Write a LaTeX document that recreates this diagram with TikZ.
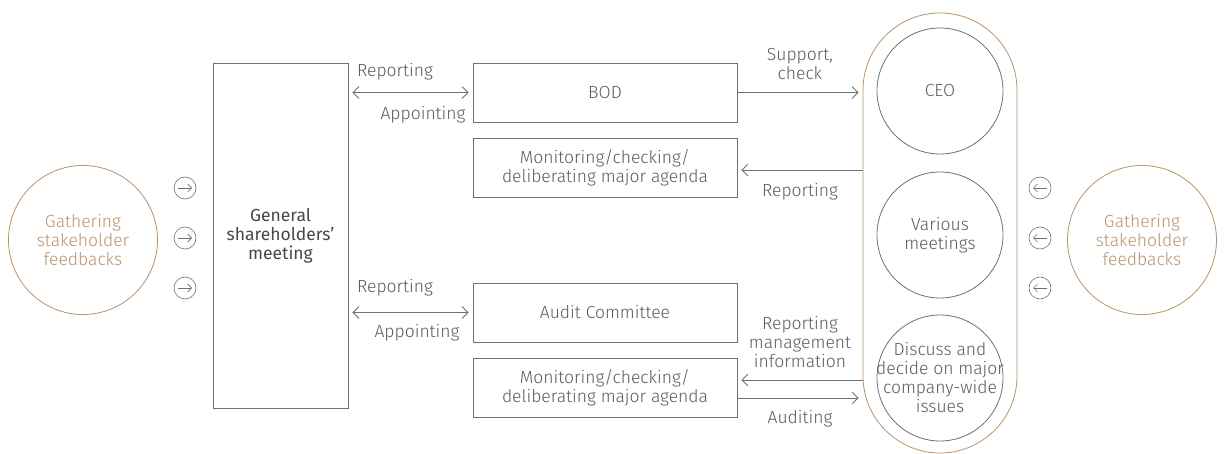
\documentclass[tikz,border=0pt]{standalone}
\usepackage{fontspec}
\setmainfont{Fira Sans}[UprightFont={* Light}]
\newfontfamily\gsmfont{Fira Sans}
\usetikzlibrary{arrows.meta}
\definecolor{ln}{HTML}{707070}
\definecolor{txt}{HTML}{5A5A5A}
\definecolor{brn}{HTML}{B8926A}
\begin{document}
\begin{tikzpicture}[x=1pt,y=-1pt,
  every node/.style={font=\fontsize{17.5}{19}\selectfont, text=txt},
  box/.style={draw=ln, line width=0.8pt, minimum width=264pt, minimum height=59pt, align=center, inner sep=0pt},
  bigc/.style={draw=ln, line width=0.8pt, circle, minimum size=126pt, align=center, inner sep=0pt},
  fbc/.style={draw=brn, line width=0.8pt, circle, minimum size=149pt, align=center, inner sep=0pt, text=brn},
  smallc/.style={draw=ln, line width=0.6pt, circle, minimum size=22pt, inner sep=0pt},
  lbl/.style={align=center, inner sep=0pt},
  arr/.style={draw=ln, line width=0.8pt, -{Straight Barb[length=6pt,width=12pt]}},
  darr/.style={draw=ln, line width=0.8pt, {Straight Barb[length=6pt,width=12pt]}-{Straight Barb[length=6pt,width=12pt]}},
  iarr/.style={draw=ln, line width=0.6pt, -{Straight Barb[length=4pt,width=8pt]}}
]
\useasboundingbox (0,0) rectangle (1224,454);

% left feedback
\node[fbc] (lfb) at (83,240) {Gathering\\stakeholder\\feedbacks};
\node[smallc] (ls1) at (185,188) {};
\node[smallc] (ls2) at (185,238) {};
\node[smallc] (ls3) at (185,288) {};
\foreach \n in {ls1,ls2,ls3} \draw[iarr] ([xshift=-7pt]\n.center) -- ([xshift=7pt]\n.center);

% general meeting
\node[box, minimum width=135pt, minimum height=345pt, text=black!72, font=\gsmfont\fontsize{17.5}{19}\selectfont] (gsm) at (280.5,235.5) {General\\shareholders’\\meeting};

% boxes
\node[box] (bod) at (605,92.5) {BOD};
\node[box] (mon1) at (605,168) {Monitoring/checking/\\deliberating major agenda};
\node[box] (aud) at (605,312.5) {Audit Committee};
\node[box] (mon2) at (605,388) {Monitoring/checking/\\deliberating major agenda};

% capsule
\node[draw=brn, line width=0.8pt, minimum width=154pt, minimum height=440pt, rounded corners=77pt, inner sep=0pt] (cap) at (940,233) {};
\node[bigc] (ceo) at (940,91) {CEO};
\node[bigc] (meet) at (940,235) {Various\\meetings};
\node[bigc, label={[lbl]center:{Discuss and\\decide on major\\company-wide\\issues}}] (disc) at (940,378) {};

% right feedback
\node[fbc] (rfb) at (1142,240) {Gathering\\stakeholder\\feedbacks};
\node[smallc] (rs1) at (1040,188) {};
\node[smallc] (rs2) at (1040,238) {};
\node[smallc] (rs3) at (1040,288) {};
\foreach \n in {rs1,rs2,rs3} \draw[iarr] ([xshift=7pt]\n.center) -- ([xshift=-7pt]\n.center);

% connectors
\draw[darr, shorten <=4pt, shorten >=4pt] (gsm.east |- bod.west) -- (bod.west);
\draw[darr, shorten <=4pt, shorten >=4pt] (gsm.east |- aud.west) -- (aud.west);
\draw[arr, shorten >=4pt] (bod.east) -- (bod.east -| cap.west);
\draw[arr, shorten >=4pt] ([yshift=-2pt]mon1.east -| cap.west) -- ([yshift=-2pt]mon1.east);
\draw[arr, shorten >=4pt] ([yshift=8pt]mon2.east -| cap.west) -- ([yshift=8pt]mon2.east);
\draw[arr, shorten >=4pt] ([yshift=-10pt]mon2.east) -- ([yshift=-10pt]mon2.east -| cap.west);

% labels
\node[lbl] (l1) at (395,72) {Reporting};
\node[lbl] (l2) at (423,115) {Appointing};
\node[lbl] (l3) at (395,288) {Reporting};
\node[lbl] (l4) at (417,333) {Appointing};
\node[lbl] (l5) at (800,64) {Support,\\check};
\node[lbl] (l6) at (800,192) {Reporting};
\node[lbl] (l7) at (800,342) {Reporting\\management\\information};
\node[lbl] (l8) at (800,419) {Auditing};
\end{tikzpicture}
\end{document}
